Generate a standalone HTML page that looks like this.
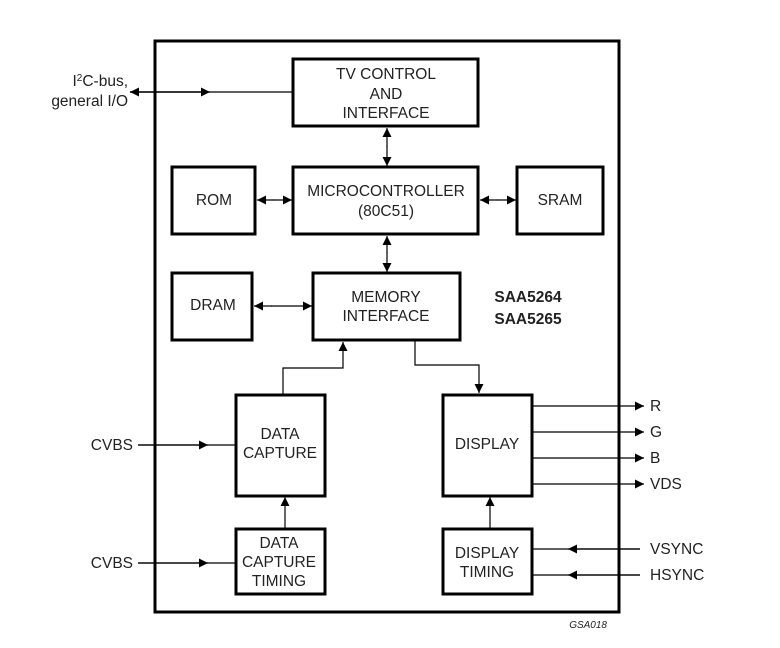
<!DOCTYPE html><html><head><style>body{margin:0;background:#fff}svg{display:block}text{font-family:"Liberation Sans",Arial,sans-serif;font-size:15.5px;fill:#222}</style></head><body>
<svg width="780" height="648" viewBox="0 0 780 648" xmlns="http://www.w3.org/2000/svg">
<defs><marker id="a" viewBox="0 0 10 10" refX="10" refY="5" markerWidth="9" markerHeight="9" markerUnits="userSpaceOnUse" orient="auto"><path d="M0,0L10,5L0,10z" fill="#000"/></marker></defs>
<g fill="none" stroke="#000" stroke-width="3">
<rect x="155" y="41" width="464" height="571"/>
<rect x="293" y="59" width="185" height="67"/>
<rect x="293" y="167" width="185" height="67"/>
<rect x="172" y="167" width="83" height="67"/>
<rect x="517" y="167" width="86" height="67"/>
<rect x="172" y="273" width="80" height="67"/>
<rect x="313" y="273" width="147" height="67"/>
<rect x="236" y="395" width="89" height="101"/>
<rect x="443" y="395" width="89" height="101"/>
<rect x="236" y="529" width="89" height="65"/>
<rect x="443" y="529" width="89" height="65"/>
</g>
<g fill="none" stroke="#000" stroke-width="1.2">
<line x1="130" y1="92" x2="293" y2="92"/><line x1="130" y1="92" x2="210" y2="92" marker-end="url(#a)"/><line x1="200" y1="92" x2="130" y2="92" marker-end="url(#a)"/>
<line x1="387" y1="147" x2="387" y2="128" marker-end="url(#a)"/><line x1="387" y1="146" x2="387" y2="166" marker-end="url(#a)"/>
<line x1="387" y1="253" x2="387" y2="236" marker-end="url(#a)"/><line x1="387" y1="252" x2="387" y2="272" marker-end="url(#a)"/>
<line x1="274" y1="200" x2="257" y2="200" marker-end="url(#a)"/><line x1="273" y1="200" x2="292" y2="200" marker-end="url(#a)"/>
<line x1="498" y1="200" x2="480" y2="200" marker-end="url(#a)"/><line x1="497" y1="200" x2="516" y2="200" marker-end="url(#a)"/>
<line x1="272" y1="306" x2="254" y2="306" marker-end="url(#a)"/><line x1="271" y1="306" x2="312" y2="306" marker-end="url(#a)"/>
<polyline points="283,395 283,368 343,368 343,342" marker-end="url(#a)"/>
<polyline points="415,340 415,365 479,365 479,393" marker-end="url(#a)"/>
<line x1="532" y1="406" x2="644" y2="406" marker-end="url(#a)"/>
<line x1="532" y1="432" x2="644" y2="432" marker-end="url(#a)"/>
<line x1="532" y1="458" x2="644" y2="458" marker-end="url(#a)"/>
<line x1="532" y1="484" x2="644" y2="484" marker-end="url(#a)"/>
<line x1="138" y1="445" x2="236" y2="445"/><line x1="138" y1="445" x2="208" y2="445" marker-end="url(#a)"/>
<line x1="138" y1="563" x2="236" y2="563"/><line x1="138" y1="563" x2="208" y2="563" marker-end="url(#a)"/>
<line x1="640" y1="549" x2="532" y2="549"/><line x1="640" y1="549" x2="568" y2="549" marker-end="url(#a)"/>
<line x1="640" y1="575" x2="532" y2="575"/><line x1="640" y1="575" x2="568" y2="575" marker-end="url(#a)"/>
<line x1="285" y1="529" x2="285" y2="497" marker-end="url(#a)"/>
<line x1="490" y1="529" x2="490" y2="497" marker-end="url(#a)"/>
</g>
<g text-anchor="middle">
<text x="386" y="79">TV CONTROL</text><text x="386" y="99">AND</text><text x="386" y="118">INTERFACE</text>
<text x="386" y="196">MICROCONTROLLER</text><text x="386" y="216">(80C51)</text>
<text x="214" y="205">ROM</text><text x="560" y="205">SRAM</text><text x="213" y="310">DRAM</text>
<text x="386" y="302">MEMORY</text><text x="386" y="321">INTERFACE</text>
<text x="280" y="439">DATA</text><text x="280" y="458">CAPTURE</text>
<text x="487" y="449">DISPLAY</text>
<text x="279" y="548">DATA</text><text x="279" y="567">CAPTURE</text><text x="279" y="586">TIMING</text>
<text x="487" y="558">DISPLAY</text><text x="487" y="577">TIMING</text>
</g>
<text x="528" y="302" text-anchor="middle" style="font-weight:bold">SAA5264</text>
<text x="528" y="324" text-anchor="middle" style="font-weight:bold">SAA5265</text>
<g text-anchor="end"><text x="128" y="86">I<tspan dy="-5" font-size="10">2</tspan><tspan dy="5">C-bus,</tspan></text><text x="128" y="106">general I/O</text>
<text x="133" y="450">CVBS</text><text x="133" y="568">CVBS</text></g>
<text x="650" y="411">R</text><text x="650" y="437">G</text><text x="650" y="463">B</text><text x="650" y="489">VDS</text>
<text x="650" y="554">VSYNC</text><text x="650" y="580">HSYNC</text>
<text x="607" y="628" text-anchor="end" style="font-size:10px;font-style:italic">GSA018</text>
</svg></body></html>
